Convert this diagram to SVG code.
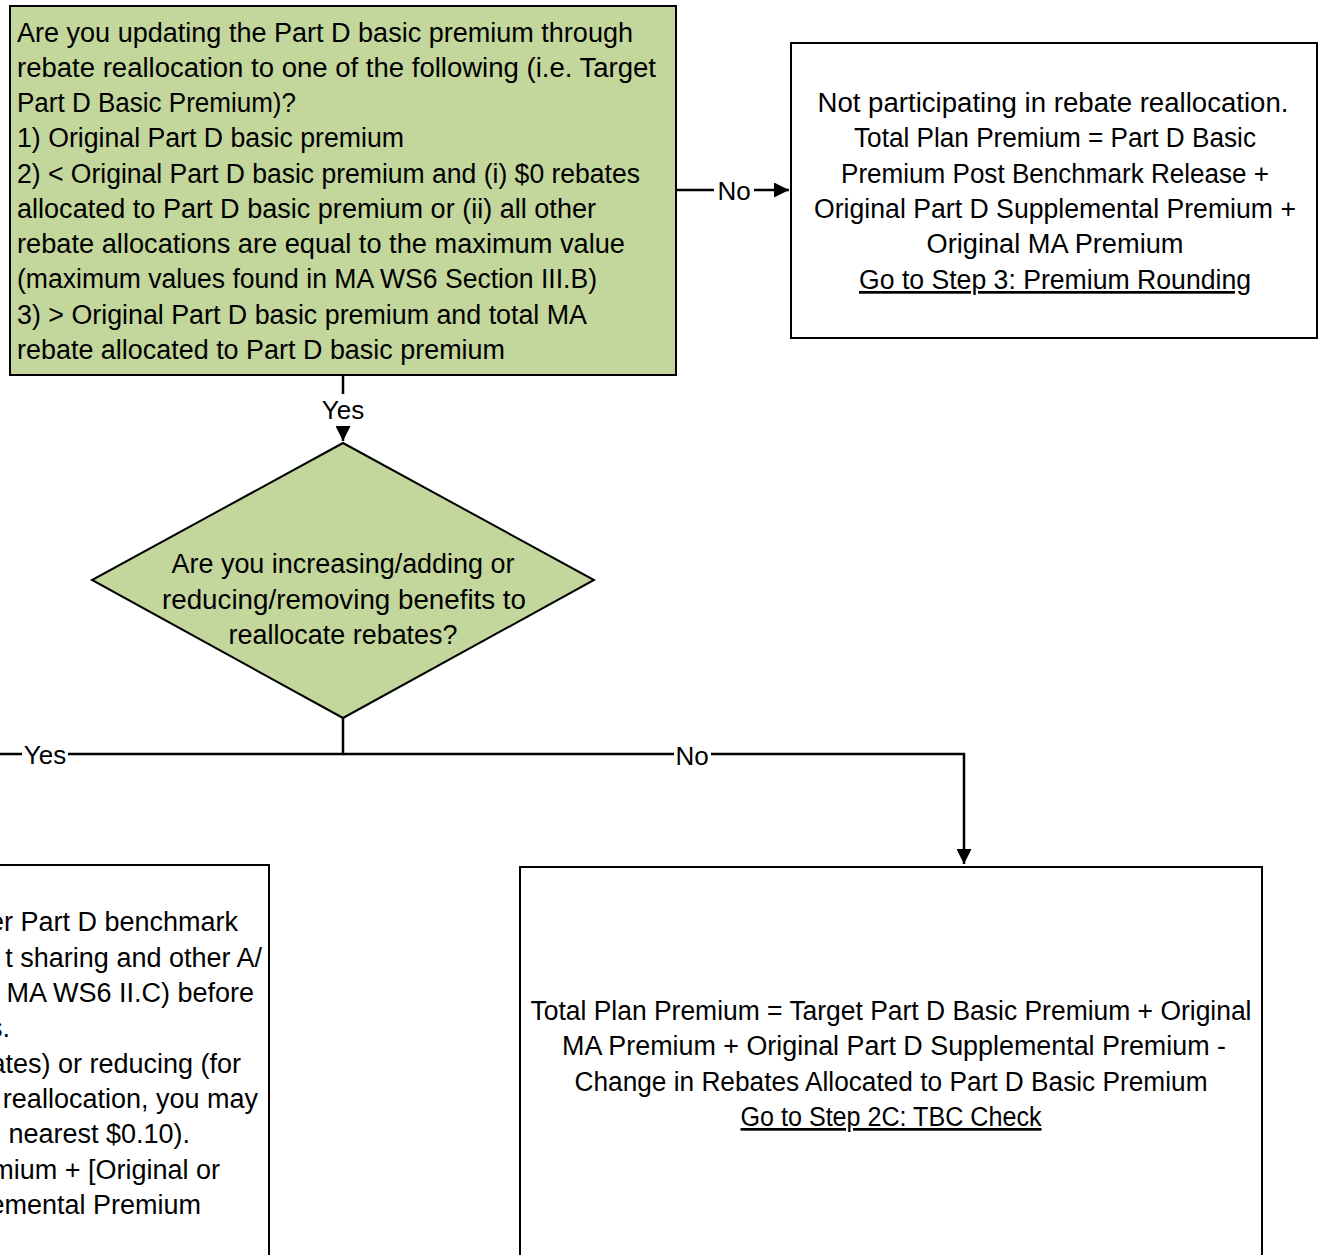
<svg xmlns="http://www.w3.org/2000/svg" width="1321" height="1255" viewBox="0 0 1321 1255">
<defs>
<style>
.box{fill:#fff;stroke:#000;stroke-width:2}
.green{fill:#c3d69b;stroke:#000;stroke-width:2}
.t{font-family:"Liberation Sans",Arial,sans-serif;font-size:27px;fill:#000}
.c{text-anchor:middle}
.e{text-anchor:end}
.u{text-decoration:underline}
.lbl{font-family:"Liberation Sans",Arial,sans-serif;font-size:26px;fill:#000;text-anchor:middle}
.conn{fill:none;stroke:#000;stroke-width:2.5}
.bg{fill:#fff}
</style>
<marker id="arr" viewBox="0 0 10 10" refX="10" refY="5" markerWidth="6" markerHeight="6" markerUnits="strokeWidth" orient="auto">
<path d="M0,0 L10,5 L0,10 z" fill="#000"/>
</marker>
</defs>
<rect width="1321" height="1255" fill="#fff"/>

<g id="connectors">
<path class="conn" d="M676,190 L789,190" marker-end="url(#arr)"/>
<rect class="bg" x="714" y="176" width="40" height="30"/>
<text class="lbl" x="734" y="200">No</text>
<path class="conn" d="M343,375 L343,441" marker-end="url(#arr)"/>
<rect class="bg" x="320" y="394" width="46" height="32"/>
<text class="lbl" x="343" y="419">Yes</text>
<path class="conn" d="M343,718 L343,754 L-5,754"/>
<rect class="bg" x="22" y="740" width="46" height="30"/>
<text class="lbl" x="45" y="764">Yes</text>
<path class="conn" d="M343,754 L964,754 L964,864" marker-end="url(#arr)"/>
<rect class="bg" x="674" y="741" width="37" height="30"/>
<text class="lbl" x="692" y="765">No</text>
</g>

<g id="node-question1">
<rect class="green" x="10" y="6" width="666" height="369"/>
<text class="t" x="17" y="42" textLength="616" lengthAdjust="spacingAndGlyphs">Are you updating the Part D basic premium through</text>
<text class="t" x="17" y="77" textLength="639" lengthAdjust="spacingAndGlyphs">rebate reallocation to one of the following (i.e. Target</text>
<text class="t" x="17" y="112" textLength="279" lengthAdjust="spacingAndGlyphs">Part D Basic Premium)?</text>
<text class="t" x="17" y="147" textLength="387" lengthAdjust="spacingAndGlyphs">1) Original Part D basic premium</text>
<text class="t" x="17" y="183" textLength="623" lengthAdjust="spacingAndGlyphs">2) &lt; Original Part D basic premium and (i) $0 rebates</text>
<text class="t" x="17" y="218" textLength="579" lengthAdjust="spacingAndGlyphs">allocated to Part D basic premium or (ii) all other</text>
<text class="t" x="17" y="253" textLength="608" lengthAdjust="spacingAndGlyphs">rebate allocations are equal to the maximum value</text>
<text class="t" x="17" y="288" textLength="580" lengthAdjust="spacingAndGlyphs">(maximum values found in MA WS6 Section III.B)</text>
<text class="t" x="17" y="324" textLength="570" lengthAdjust="spacingAndGlyphs">3) &gt; Original Part D basic premium and total MA</text>
<text class="t" x="17" y="359" textLength="488" lengthAdjust="spacingAndGlyphs">rebate allocated to Part D basic premium</text>
</g>

<g id="node-not-participating">
<rect class="box" x="791" y="43" width="526" height="295"/>
<text class="t c" x="1053" y="112" textLength="471" lengthAdjust="spacingAndGlyphs">Not participating in rebate reallocation.</text>
<text class="t c" x="1055" y="147" textLength="402" lengthAdjust="spacingAndGlyphs">Total Plan Premium = Part D Basic</text>
<text class="t c" x="1055" y="183" textLength="428" lengthAdjust="spacingAndGlyphs">Premium Post Benchmark Release +</text>
<text class="t c" x="1055" y="218" textLength="482" lengthAdjust="spacingAndGlyphs">Original Part D Supplemental Premium +</text>
<text class="t c" x="1055" y="253" textLength="257" lengthAdjust="spacingAndGlyphs">Original MA Premium</text>
<text class="t c u" x="1055" y="289" textLength="392" lengthAdjust="spacingAndGlyphs">Go to Step 3: Premium Rounding</text>
</g>

<g id="node-question2">
<polygon class="green" points="343,443 594,580 343,718 92,580"/>
<text class="t c" x="343" y="573" textLength="343" lengthAdjust="spacingAndGlyphs">Are you increasing/adding or</text>
<text class="t c" x="344" y="609" textLength="364" lengthAdjust="spacingAndGlyphs">reducing/removing benefits to</text>
<text class="t c" x="343" y="644" textLength="229" lengthAdjust="spacingAndGlyphs">reallocate rebates?</text>
</g>

<g id="node-yes-branch">
<rect class="box" x="-20" y="865" width="289" height="420"/>
<text class="t e" x="238" y="931">er Part D benchmark</text>
<text class="t e" x="262" y="967">t sharing and other A/</text>
<text class="t e" x="254" y="1002">n MA WS6 II.C) before</text>
<text class="t e" x="10" y="1037">s.</text>
<text class="t e" x="241" y="1073">ates) or reducing (for</text>
<text class="t e" x="258" y="1108">reallocation, you may</text>
<text class="t e" x="190" y="1143">nearest $0.10).</text>
<text class="t e" x="220" y="1179">mium + [Original or</text>
<text class="t e" x="201" y="1214">emental Premium</text>
</g>

<g id="node-no-branch">
<rect class="box" x="520" y="867" width="742" height="420"/>
<text class="t c" x="891" y="1020" textLength="721" lengthAdjust="spacingAndGlyphs">Total Plan Premium = Target Part D Basic Premium + Original</text>
<text class="t c" x="894" y="1055" textLength="664" lengthAdjust="spacingAndGlyphs">MA Premium + Original Part D Supplemental Premium -</text>
<text class="t c" x="891" y="1091" textLength="633" lengthAdjust="spacingAndGlyphs">Change in Rebates Allocated to Part D Basic Premium</text>
<text class="t c u" x="891" y="1126" textLength="301" lengthAdjust="spacingAndGlyphs">Go to Step 2C: TBC Check</text>
</g>
</svg>
